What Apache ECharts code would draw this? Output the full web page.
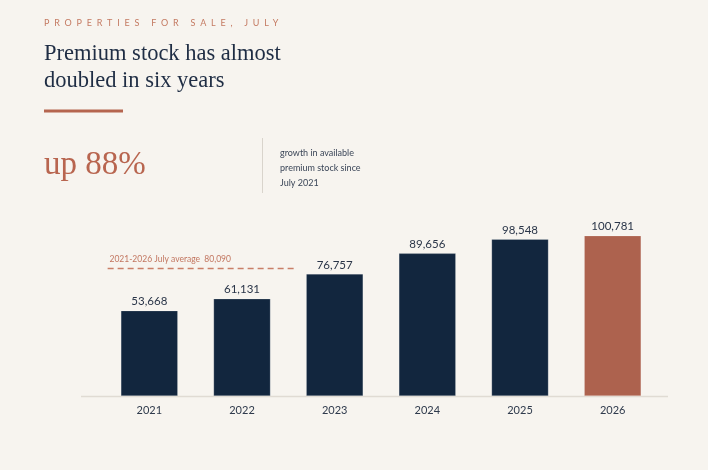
<!DOCTYPE html>
<html>
<head>
<meta charset="utf-8">
<script src="https://cdn.jsdelivr.net/npm/echarts@6/dist/echarts.min.js"></script>
<style>
html,body{margin:0;padding:0;background:#f7f4ef;}
#wrap{position:relative;width:708px;height:470px;}
#chart{position:absolute;left:0;top:0;width:708px;height:470px;}
#kicker{position:absolute;left:44px;top:17px;font-family:Lato,sans-serif;font-size:9px;letter-spacing:4.8px;color:#c47a62;white-space:nowrap;}
</style>
</head>
<body>
<div id="wrap">
<div id="chart"></div>
<div id="kicker">PROPERTIES FOR SALE, JULY</div>
</div>
<script>
var categories = ['2021', '2022', '2023', '2024', '2025', '2026'];
var stockValues = [53668, 61131, 76757, 89656, 98548, 100781];
var highlightCategory = '2026';
var averageLabel = '2021-2026 July average';
var headline = ['Premium stock has almost', 'doubled in six years'];
var bigStat = 'up 88%';
var statNote = ['growth in available', 'premium stock since', 'July 2021'];

var NAVY = '#12263e', RUST = '#ad624e', SANS = 'Lato, sans-serif', SERIF = '"Liberation Serif", serif';
function fmt(v){ return Math.round(v).toString().replace(/\B(?=(\d{3})+(?!\d))/g, ','); }
var avg = stockValues.reduce(function(a,b){return a+b;},0) / stockValues.length;

var chart = echarts.init(document.getElementById('chart'));
var option = {
  backgroundColor: '#f7f4ef',
  animation: false,
  grid: {left: 103, right: 49, top: 205, bottom: 74},
  xAxis: {
    type: 'category', data: categories,
    axisLine: {show: false}, axisTick: {show: false},
    axisLabel: {color: '#2f3a4c', fontFamily: SANS, fontSize: 11, margin: 9}
  },
  yAxis: {type: 'value', min: 0, max: 120000, show: false, splitLine: {show: false}},
  series: [{
    type: 'bar', barWidth: 57,
    data: stockValues.map(function(v, i){
      return {value: v, itemStyle: {color: categories[i] === highlightCategory ? RUST : NAVY}};
    }),
    itemStyle: {borderColor: 'rgba(255,255,255,0.35)', borderWidth: 0.6},
    label: {show: true, position: 'top', distance: 3, color: '#2a3548', fontFamily: SANS, fontSize: 11.5,
      formatter: function(p){ return fmt(p.value); }}
  }]
};
chart.setOption(option);

var y0 = chart.convertToPixel({yAxisIndex: 0}, 0);
var yAvg = chart.convertToPixel({yAxisIndex: 0}, avg);
var x0 = chart.convertToPixel({xAxisIndex: 0}, categories[0]);
var x1 = chart.convertToPixel({xAxisIndex: 0}, categories[1]);
var step = x1 - x0;

chart.setOption({
  graphic: [
    {type: 'text', left: 44, top: 41, style: {text: headline.join('\n'), fill: '#1f2d44', font: '22.5px ' + SERIF, lineHeight: 27}},
    {type: 'rect', shape: {x: 44, y: 109.5, width: 79, height: 3}, style: {fill: '#b5654f'}},
    {type: 'text', left: 44, top: 149, style: {text: bigStat, fill: '#b8654f', font: '33px ' + SERIF}},
    {type: 'line', shape: {x1: 262.5, y1: 138, x2: 262.5, y2: 193}, style: {stroke: '#d9d4cc', lineWidth: 1}},
    {type: 'text', left: 280, top: 146, style: {text: statNote.join('\n'), fill: '#3b4658', font: '9px ' + SANS, lineHeight: 15}},
    {type: 'line', shape: {x1: 81, y1: y0 + 0.5, x2: 668, y2: y0 + 0.5}, style: {stroke: '#e0dbd3', lineWidth: 1.5}},
    {type: 'line', shape: {x1: x0 - 0.45 * step, y1: yAvg, x2: x0 + 1.56 * step, y2: yAvg},
      style: {stroke: '#c97f68', lineWidth: 1.3, lineDash: [6, 4]}},
    {type: 'text', x: x0 - 0.43 * step, y: yAvg - 9, style: {text: averageLabel + '  ' + fmt(avg), fill: '#c27660', font: '8.5px ' + SANS, verticalAlign: 'middle'}}
  ]
});
</script>
</body>
</html>
